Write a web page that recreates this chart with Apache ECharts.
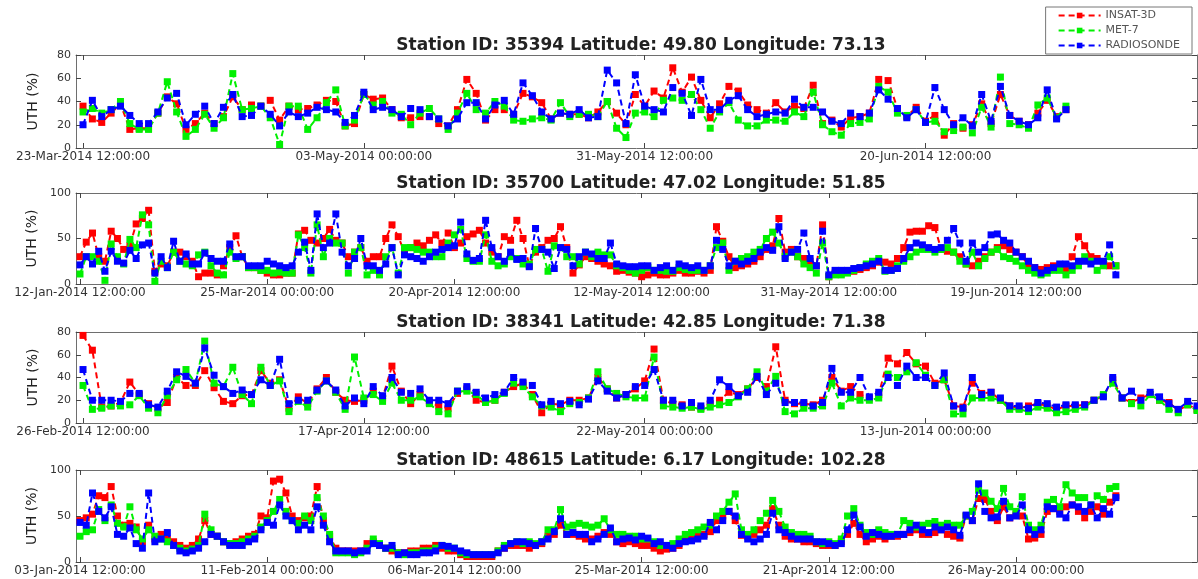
<!DOCTYPE html>
<html><head><meta charset="utf-8">
<script src="https://cdn.jsdelivr.net/npm/echarts@6/dist/echarts.min.js"></script>
<style>html,body{margin:0;padding:0;background:#fff}#c{width:1198px;height:579px}</style>
</head><body><div id="c"></div>
<script>
const seriesNames = ['INSAT-3D', 'MET-7', 'RADIOSONDE'];
const seriesColors = ['#ff0000', '#00f000', '#0000ff'];

const titles = [
  'Station ID: 35394 Latitude: 49.80 Longitude: 73.13',
  'Station ID: 35700 Latitude: 47.02 Longitude: 51.85',
  'Station ID: 38341 Latitude: 42.85 Longitude: 71.38',
  'Station ID: 48615 Latitude: 6.17 Longitude: 102.28'
];

// tick positions (observation index) and their labels
const p1TickPos = [1, 31, 61, 91];
const p1TickLabels = ['23-Mar-2014 12:00:00', '03-May-2014 00:00:00', '31-May-2014 12:00:00', '20-Jun-2014 12:00:00'];
const p2TickPos = [1, 31, 61, 91, 121, 151];
const p2TickLabels = ['12-Jan-2014 12:00:00', '25-Mar-2014 00:00:00', '20-Apr-2014 12:00:00', '12-May-2014 12:00:00', '31-May-2014 12:00:00', '19-Jun-2014 12:00:00'];
const p3TickPos = [1, 31, 61, 91];
const p3TickLabels = ['26-Feb-2014 12:00:00', '17-Apr-2014 12:00:00', '22-May-2014 00:00:00', '13-Jun-2014 00:00:00'];
const p4TickPos = [1, 31, 61, 91, 121, 151];
const p4TickLabels = ['03-Jan-2014 12:00:00', '11-Feb-2014 00:00:00', '06-Mar-2014 12:00:00', '25-Mar-2014 12:00:00', '21-Apr-2014 12:00:00', '26-May-2014 00:00:00'];

// ---------- Station 35394 ----------
const p1Insat = [36,25,22,30,38,16,17,17,30,44, 38,16,21,30,21,27,44,33,37,36, 41,24,36,33,34,37,41,40,19,21,
  46,42,43,33,26,26,27,27,21,19, 33,59,47,24,33,33,29,47,44,39, 25,30,29,29,26,31,40,30,20,46,
  36,49,43,69,48,61,41,26,38,53, 49,37,33,30,39,31,36,34,54,21, 24,18,26,27,30,59,58,34,27,35,
  23,28,11,21,17,20,38,21,46,28, 23,20,30,41,27,33];
const p1Met = [31,34,30,33,40,21,16,16,30,57, 31,10,16,29,17,26,64,33,34,36, 26,3,36,36,16,26,39,50,19,24,
  46,37,40,30,29,20,30,34,25,16, 30,47,33,30,40,36,24,23,25,26, 24,39,27,29,29,27,40,17,9,30,
  31,27,41,43,41,46,33,17,31,39, 24,19,19,24,24,23,31,27,48,20, 14,11,21,22,25,53,48,30,28,33,
  22,23,14,15,18,13,35,18,61,21, 20,17,37,43,26,36];
const p1Radio = [20,41,27,33,36,28,21,21,31,43, 47,20,29,36,21,35,46,27,28,36, 29,19,31,27,30,35,33,31,22,28,
  48,33,35,33,27,34,33,27,25,19, 25,39,39,25,37,41,29,56,45,31, 25,30,29,33,26,27,67,56,21,63,
  36,33,31,52,47,28,59,33,33,41, 45,33,27,29,31,30,42,35,35,31, 23,21,30,27,30,50,42,34,26,33,
  22,52,33,20,26,19,46,23,53,28, 23,20,26,50,25,33];

// ---------- Station 35700 ----------
const p2Insat = [30,46,56,30,25,58,50,38,42,66, 72,81,14,22,20,35,35,30,25,8, 12,12,10,20,40,53,30,18,18,15,
  12,10,10,12,12,55,59,48,45,50, 60,48,45,30,35,40,25,30,30,50, 65,52,35,40,45,42,48,54,45,56,
  40,45,52,55,59,45,35,30,52,48, 70,50,20,35,40,48,50,63,40,12, 21,30,28,25,22,20,14,15,13,12,
  8,10,12,10,10,12,15,12,12,14, 12,15,63,47,30,18,20,22,25,30, 38,42,72,35,38,30,28,25,20,65,
  8,12,12,14,14,16,18,20,24,24, 22,28,40,57,58,58,64,62,38,36, 35,30,22,20,25,30,35,40,42,38,
  35,30,20,18,16,18,20,18,15,30, 52,42,30,28,22,20,20];
const p2Met = [11,30,30,25,4,44,30,22,49,40, 76,65,3,25,18,35,25,22,20,32, 35,20,12,10,35,28,30,18,18,15,
  15,12,13,12,12,54,40,12,65,30, 50,45,45,12,35,40,10,15,10,30, 40,12,40,40,38,35,35,30,30,45,
  54,60,28,25,25,54,25,20,22,30, 28,22,22,38,38,14,42,40,30,30, 22,35,30,35,32,32,20,18,15,12,
  15,18,15,15,14,14,18,16,15,15, 15,20,40,45,15,25,28,30,35,38, 50,57,45,30,35,30,22,18,12,45,
  8,10,10,12,15,18,22,25,28,14, 15,20,25,30,35,38,38,35,38,40, 35,25,22,35,20,28,35,38,30,28,
  25,20,15,12,10,12,15,15,10,15, 20,30,25,15,20,30,20];
const p2Radio = [21,30,22,36,14,36,25,23,37,28, 43,45,12,30,18,47,25,33,22,22, 34,28,25,25,44,30,30,20,20,20,
  25,22,20,18,20,35,46,15,77,40, 45,77,35,20,28,50,20,20,15,22, 40,10,32,30,28,25,30,35,38,40,
  42,68,33,26,28,70,40,30,25,35, 27,28,19,61,38,35,17,40,38,20, 30,35,33,28,28,45,22,20,19,19,
  20,20,15,18,20,15,22,20,18,20, 15,20,48,38,20,25,22,25,28,35, 40,37,63,28,35,38,56,28,20,58,
  10,15,15,15,17,18,20,22,25,15, 15,17,28,40,45,43,40,38,40,48, 61,45,25,45,35,40,54,55,48,45,
  35,30,25,18,12,15,18,22,22,20, 25,25,22,25,25,43,10];

// ---------- Station 38341 ----------
const p3Insat = [77,64,14,15,18,36,25,17,13,18, 40,33,33,46,31,19,17,24,25,46, 35,38,13,23,17,30,40,27,20,19,
  20,28,22,50,28,17,25,18,15,13, 26,30,20,18,20,27,32,35,25,9, 17,16,20,20,22,40,30,22,25,30,
  37,65,20,17,16,14,13,17,20,27, 25,30,40,32,67,20,17,17,16,20, 40,28,32,25,22,25,57,52,62,52,
  50,35,38,15,14,35,26,27,20,15, 13,15,17,15,12,15,15,16,20,24, 38,22,18,22,25,20,18,11,16,12];
const p3Met = [33,12,13,15,15,16,24,13,9,24, 38,47,35,72,35,32,49,25,17,49, 33,37,10,19,14,28,37,27,12,58,
  22,25,19,35,20,20,23,17,10,8, 28,28,25,18,20,26,35,32,23,15, 14,10,17,18,22,45,30,26,23,22,
  22,58,15,14,13,14,12,14,16,18, 23,30,45,28,41,10,8,13,13,15, 35,15,22,20,20,22,43,40,45,53,
  42,33,38,8,8,22,22,22,20,12, 12,10,14,13,9,10,12,14,20,25, 35,22,17,15,25,20,12,9,16,11];
const p3Radio = [47,20,20,20,19,26,26,16,14,28, 45,41,35,66,42,32,26,29,25,38, 33,56,17,20,20,29,37,29,15,22,
  17,32,24,40,27,26,30,20,20,17, 28,32,27,22,25,27,40,36,33,16, 19,17,19,16,21,37,28,22,25,32,
  33,47,20,20,15,18,15,20,38,32, 24,27,41,25,35,18,18,18,15,18, 48,27,27,40,23,27,40,33,50,40,
  40,33,44,15,13,40,25,27,22,15, 15,13,18,17,14,16,16,16,20,23, 40,22,28,20,27,23,17,12,19,15];

// ---------- Station 48615 ----------
const p4Insat = [45,48,52,72,70,82,50,40,42,38, 22,40,25,30,25,22,18,15,18,25, 45,30,28,22,20,22,25,28,30,50,
  48,88,90,75,50,45,48,50,82,45, 28,15,12,12,12,12,20,22,18,15, 12,10,10,12,12,15,15,18,15,12,
  12,8,6,6,6,6,6,12,15,18, 18,18,15,18,20,28,30,40,30,30, 28,25,25,28,32,30,22,20,22,20,
  18,18,15,12,14,15,18,25,28,30, 30,33,45,50,55,45,29,28,30,35, 40,58,40,28,25,25,22,22,20,18,
  18,18,22,30,42,30,22,25,28,25, 28,28,30,32,35,30,30,32,35,30, 28,26,50,45,69,68,55,45,60,48,
  52,50,25,26,30,55,58,55,60,62, 55,48,55,60,52,65,72];
const p4Met = [28,33,35,57,45,62,42,38,60,35, 25,35,28,25,22,18,15,12,14,18, 52,35,28,22,20,20,22,25,28,38,
  45,55,68,55,45,42,50,45,70,50, 30,10,10,10,8,10,15,25,20,15, 15,10,8,10,10,12,12,15,18,15,
  15,10,8,8,8,8,8,12,18,20, 22,20,22,20,22,35,35,57,38,40, 42,40,38,40,47,35,30,30,28,28,
  25,25,22,18,18,20,25,30,32,35, 38,40,50,55,65,74,35,30,35,45, 53,67,55,38,32,30,30,28,22,20,
  22,20,25,50,58,40,32,30,35,32, 30,30,45,42,38,40,42,44,40,42, 40,40,50,55,78,75,66,58,80,60,
  55,71,40,35,40,65,68,60,84,75, 70,70,62,72,68,80,82];
const p4Radio = [43,40,75,55,48,60,30,28,37,20, 15,75,22,25,32,18,12,10,12,15, 22,30,28,22,18,18,18,22,25,35,
  43,40,62,50,45,35,40,35,60,40, 22,12,12,12,10,12,12,20,18,15, 18,8,10,8,8,10,10,12,18,17,
  15,12,10,8,8,8,8,10,15,20, 22,22,20,18,22,25,33,47,30,32, 30,30,22,25,30,37,22,25,26,24,
  28,26,20,22,18,15,20,22,23,25, 28,43,35,45,55,50,30,25,22,25, 30,53,35,32,28,25,25,25,22,22,
  20,18,20,35,51,38,28,32,30,28, 28,30,30,35,40,35,32,38,35,38, 35,29,51,45,85,55,48,49,66,48,
  50,62,35,30,35,60,58,52,48,62, 60,55,62,48,58,52,70];

const panels = [
  { ins: p1Insat, met: p1Met, rad: p1Radio, tp: p1TickPos, tl: p1TickLabels },
  { ins: p2Insat, met: p2Met, rad: p2Radio, tp: p2TickPos, tl: p2TickLabels },
  { ins: p3Insat, met: p3Met, rad: p3Radio, tp: p3TickPos, tl: p3TickLabels },
  { ins: p4Insat, met: p4Met, rad: p4Radio, tp: p4TickPos, tl: p4TickLabels }
];
// layout
const gridTops = [55, 193, 332, 470];
const gridHeights = [93, 91, 91, 92];
const xMins = [0.25, 0.36, 0.25, 0.36];
const xMaxs = [120, 180, 120, 180];
const yMaxs = [80, 100, 80, 100];
const yIntervals = [20, 50, 20, 50];

const FONT = 'DejaVu Sans';
const frame = '#6e6e6e';

const option = {
  animation: false,
  backgroundColor: '#ffffff',
  title: [], grid: [], xAxis: [], yAxis: [], series: [],
  legend: {
    data: seriesNames,
    orient: 'vertical',
    right: 6, top: 7,
    itemWidth: 42, itemHeight: 7, itemGap: 4,
    padding: [3, 12, 3, 12],
    borderColor: '#777', borderWidth: 1,
    textStyle: { fontFamily: FONT, fontSize: 11, color: '#555' }
  }
};

panels.forEach((p, k) => {
  option.title.push({
    text: titles[k], left: 636, top: gridTops[k] - 23, textAlign: 'center',
    textStyle: { fontFamily: FONT, fontSize: 17, fontWeight: 'bold', color: '#222' }
  });
  option.grid.push({ left: 76, right: 1, top: gridTops[k], height: gridHeights[k], containLabel: false });
  const tickStyle = { inside: true, length: 5, customValues: p.tp, lineStyle: { color: '#444' } };
  option.xAxis.push({
    type: 'value', gridIndex: k, min: xMins[k], max: xMaxs[k], position: 'bottom',
    axisLine: { show: true, onZero: false, lineStyle: { color: frame } },
    axisTick: tickStyle,
    axisLabel: {
      customValues: p.tp, margin: 3, fontFamily: FONT, fontSize: 12, color: '#333',
      formatter: (v) => { const j = p.tp.indexOf(Math.round(v)); return j >= 0 ? p.tl[j] : ''; }
    },
    splitLine: { show: false }
  });
  option.xAxis.push({
    type: 'value', gridIndex: k, min: xMins[k], max: xMaxs[k], position: 'top',
    axisLine: { show: true, onZero: false, lineStyle: { color: frame } },
    axisTick: tickStyle, axisLabel: { show: false }, splitLine: { show: false }
  });
  option.yAxis.push({
    type: 'value', gridIndex: k, min: 0, max: yMaxs[k], interval: yIntervals[k], position: 'left',
    name: 'UTH (%)', nameLocation: 'middle', nameGap: 36,
    nameTextStyle: { fontFamily: FONT, fontSize: 14, color: '#222' },
    axisLine: { show: true, onZero: false, lineStyle: { color: frame } },
    axisTick: { inside: true, length: 5, lineStyle: { color: '#444' } },
    axisLabel: { margin: 5, fontFamily: FONT, fontSize: 11, color: '#333' },
    splitLine: { show: false }
  });
  option.yAxis.push({
    type: 'value', gridIndex: k, min: 0, max: yMaxs[k], interval: yIntervals[k], position: 'right',
    axisLine: { show: true, onZero: false, lineStyle: { color: frame } },
    axisTick: { inside: true, length: 5, lineStyle: { color: '#444' } },
    axisLabel: { show: false }, splitLine: { show: false }
  });
  [p.ins, p.met, p.rad].forEach((arr, s) => {
    option.series.push({
      name: seriesNames[s], type: 'line',
      xAxisIndex: 2 * k, yAxisIndex: 2 * k,
      data: arr.map((v, i) => [i + 1, v]),
      symbol: 'rect', symbolSize: 7, showSymbol: true,
      itemStyle: { color: seriesColors[s] },
      lineStyle: { color: seriesColors[s], width: 2, type: [6, 4] },
      z: 2 + s
    });
  });
});

const chart = echarts.init(document.getElementById('c'), null, { renderer: 'canvas' });
chart.setOption(option);
</script>
</body></html>
